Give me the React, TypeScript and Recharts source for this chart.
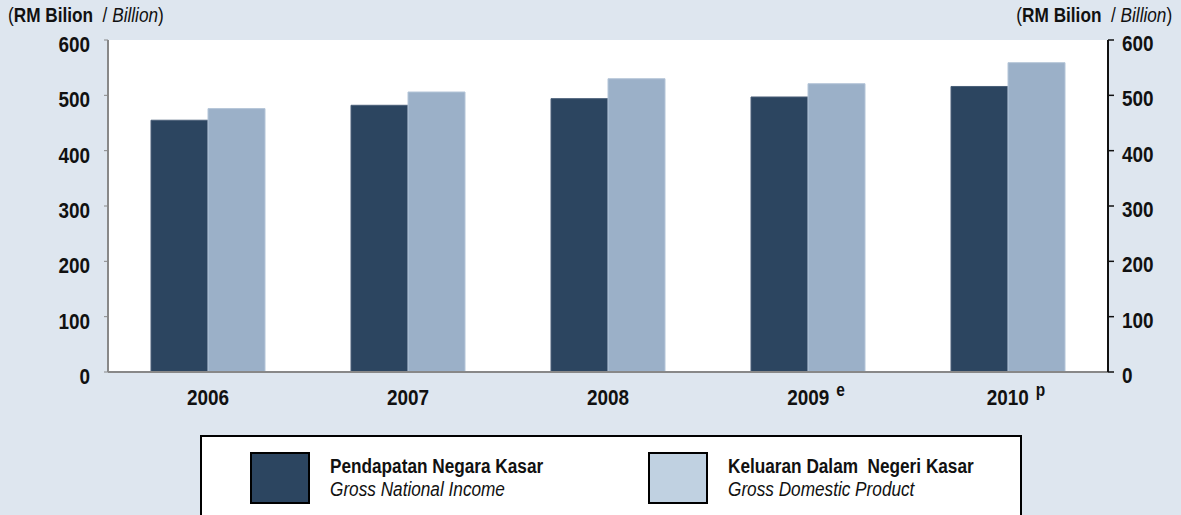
import React from 'react';
import { BarChart, Bar, XAxis, YAxis, CartesianGrid } from 'recharts';

const years = ['2006', '2007', '2008', '2009', '2010'];
const yearMarks = ['', '', '', 'e', 'p'];
const gni = [455, 482, 494, 497, 516];
const gdp = [476, 506, 530, 521, 559];
const yTicks = [0, 100, 200, 300, 400, 500, 600];

const data = years.map((y, i) => ({ year: y, mark: yearMarks[i], gni: gni[i], gdp: gdp[i] }));

const FONT = "'Liberation Sans',Arial,sans-serif";
const BG = '#dee6ef';
const DARK = '#2c4560';
const LIGHT = '#9bb0c8';
const SX = 0.86; // squeeze to imitate a narrow face

const LeftTick = (p: any) => (
  <g transform={`translate(${p.x},${p.y}) scale(${SX},1)`}>
    <text x={0} y={0} dy={12} textAnchor="end" fontFamily={FONT} fontWeight={700} fontSize={22} fill="#111">
      {p.payload.value}
    </text>
  </g>
);

const RightTick = (p: any) => (
  <g transform={`translate(${p.x},${p.y}) scale(${SX},1)`}>
    <text x={0} y={0} dy={11} textAnchor="start" fontFamily={FONT} fontWeight={700} fontSize={22} fill="#111">
      {p.payload.value}
    </text>
  </g>
);

const YearTick = (p: any) => {
  const i = years.indexOf(p.payload.value);
  const mark = yearMarks[i];
  return (
    <g transform={`translate(${p.x + (mark ? 8 : 0)},${p.y}) scale(${SX},1)`}>
      <text x={0} y={0} dy={33} textAnchor="middle" fontFamily={FONT} fontWeight={700} fontSize={22} fill="#111">
        {p.payload.value}
        {mark && <tspan dx={8} dy={-9} fontSize={18}>{mark}</tspan>}
      </text>
    </g>
  );
};

const Header = ({ side }: { side: 'left' | 'right' }) => (
  <div style={{
    position: 'absolute', top: 3, [side]: side === 'left' ? 8 : 9, fontFamily: FONT, fontSize: 20, color: '#111',
    lineHeight: '24px', whiteSpace: 'nowrap', transform: `scaleX(${SX})`, transformOrigin: side === 'left' ? 'left top' : 'right top',
  } as any}>
    (<b>RM Bilion</b>&nbsp; / <i>Billion</i>)
  </div>
);

const LegendItem = ({ color, bold, italic }: { color: string; bold: string; italic: string }) => (
  <div style={{ display: 'flex', alignItems: 'flex-start' }}>
    <div style={{ width: 56, height: 48, background: color, border: '2px solid #000' }} />
    <div style={{
      marginLeft: 20, marginTop: 3, fontFamily: FONT, color: '#111', fontSize: 20, lineHeight: '23px',
      whiteSpace: 'pre', transform: `scaleX(${SX})`, transformOrigin: 'left top',
    }}>
      <div style={{ fontWeight: 700 }}>{bold}</div>
      <div style={{ fontStyle: 'italic' }}>{italic}</div>
    </div>
  </div>
);

export default function App() {
  return (
    <div style={{ position: 'fixed', left: 0, top: 0, width: 1181, height: 515, background: BG, overflow: 'hidden' }}>
      <Header side="left" />
      <Header side="right" />
      <div style={{ position: 'absolute', left: 0, top: 0 }}>
        <BarChart width={1181} height={430} data={data} margin={{ top: 40, right: 0, bottom: 8, left: 8 }} barGap={0} barSize={57}>
          <CartesianGrid fill="#ffffff" horizontal={false} vertical={false} yAxisId="l" />
          <XAxis dataKey="year" height={50} tickLine={false} tickSize={0} tickMargin={0}
            axisLine={{ stroke: '#888', strokeWidth: 2 }} tick={<YearTick />} interval={0} />
          <YAxis yAxisId="l" orientation="left" width={100} domain={[0, 600]} ticks={yTicks} allowDataOverflow
            axisLine={{ stroke: '#888', strokeWidth: 2 }} tickLine={{ stroke: '#888' }} tickSize={4} tickMargin={14} tick={<LeftTick />} />
          <YAxis yAxisId="r" orientation="right" width={73} domain={[0, 600]} ticks={yTicks} allowDataOverflow
            axisLine={{ stroke: '#111', strokeWidth: 2 }} tickLine={{ stroke: '#111', strokeWidth: 1.5 }} tickSize={6} tickMargin={8} tick={<RightTick />} />
          <Bar yAxisId="l" dataKey="gni" name="Gross National Income" fill={DARK} stroke="#4a5f78" strokeWidth={1} isAnimationActive={false} />
          <Bar yAxisId="l" dataKey="gdp" name="Gross Domestic Product" fill={LIGHT} stroke="#b4c5d8" strokeWidth={1} isAnimationActive={false} />
        </BarChart>
      </div>
      <div style={{ position: 'absolute', left: 200, top: 435, width: 822, height: 100, background: '#fff', border: '2px solid #000', boxSizing: 'border-box' }}>
        <div style={{ position: 'absolute', left: 48, top: 15 }}>
          <LegendItem color={DARK} bold="Pendapatan Negara Kasar" italic="Gross National Income" />
        </div>
        <div style={{ position: 'absolute', left: 446, top: 15 }}>
          <LegendItem color="#c0d1e1" bold="Keluaran Dalam  Negeri Kasar" italic="Gross Domestic Product" />
        </div>
      </div>
    </div>
  );
}
